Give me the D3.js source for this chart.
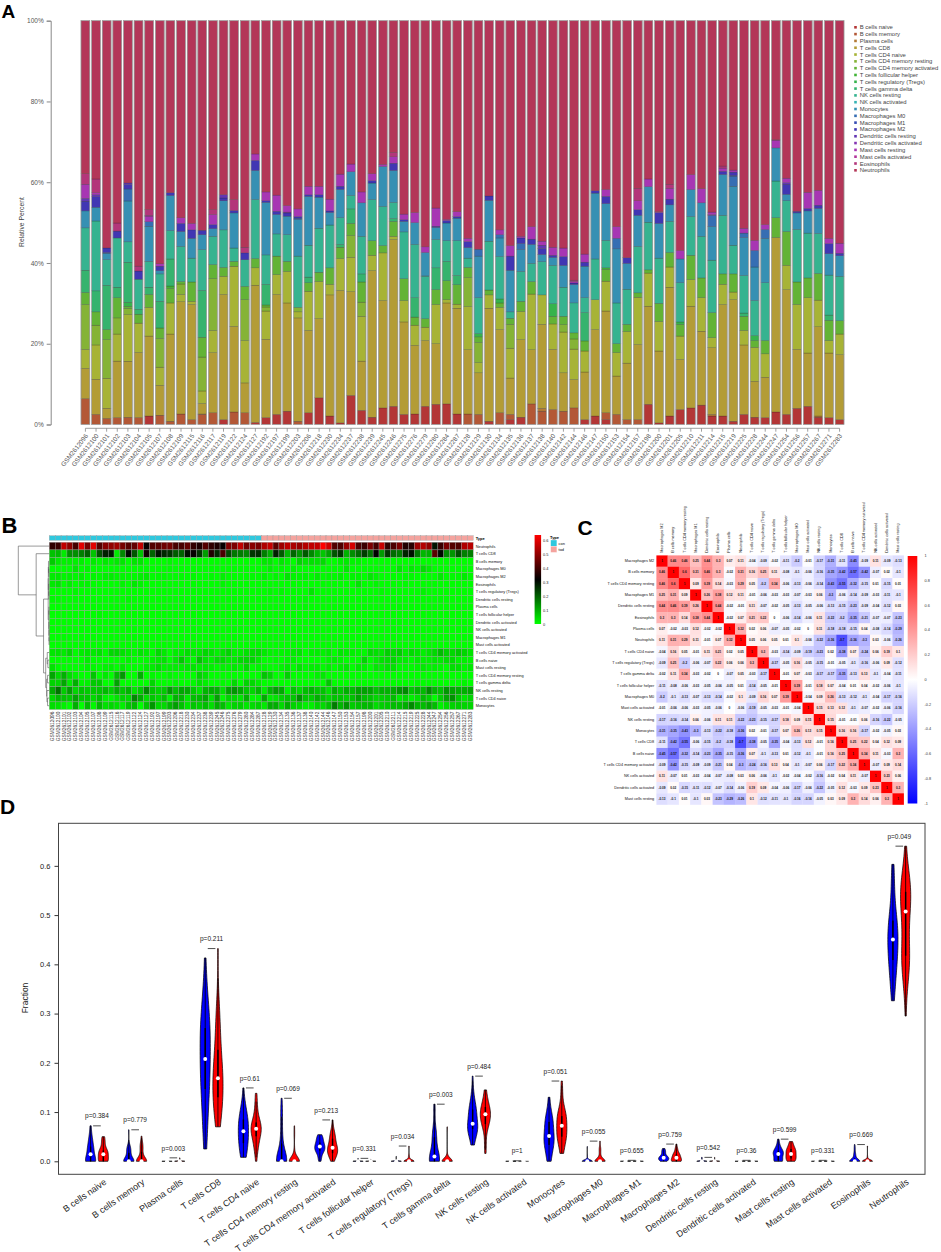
<!DOCTYPE html>
<html>
<head>
<meta charset="utf-8">
<script src="https://cdn.jsdelivr.net/npm/d3@7"></script>
<style>
  body { margin: 0; background: #fff; }
  svg { display: block; font-family: "Liberation Sans", Arial, sans-serif; }
</style>
</head>
<body>
<svg id="fig" width="941" height="1252"></svg>
<script>
// ---------------- data ----------------
const cellTypes = ["B cells naive", "B cells memory", "Plasma cells", "T cells CD8", "T cells CD4 naive",
  "T cells CD4 memory resting", "T cells CD4 memory activated", "T cells follicular helper",
  "T cells regulatory (Tregs)", "T cells gamma delta", "NK cells resting", "NK cells activated",
  "Monocytes", "Macrophages M0", "Macrophages M1", "Macrophages M2", "Dendritic cells resting",
  "Dendritic cells activated", "Mast cells resting", "Mast cells activated", "Eosinophils", "Neutrophils"];

const sampleIds = ["GSM2612096","GSM2612100","GSM2612101","GSM2612102","GSM2612103","GSM2612104","GSM2612105","GSM2612107","GSM2612108","GSM2612109","GSM2612115","GSM2612116","GSM2612117","GSM2612119","GSM2612122","GSM2612124","GSM2612127","GSM2612192","GSM2612197","GSM2612199","GSM2612203","GSM2612206","GSM2612218","GSM2612230","GSM2612234","GSM2612237","GSM2612238","GSM2612239","GSM2612245","GSM2612246","GSM2612275","GSM2612276","GSM2612279","GSM2612280","GSM2612284","GSM2612287",
  "GSM2612128","GSM2612129","GSM2612130","GSM2612134","GSM2612135","GSM2612136","GSM2612137","GSM2612138","GSM2612140","GSM2612142","GSM2612144","GSM2612146","GSM2612147","GSM2612150","GSM2612153","GSM2612154","GSM2612157","GSM2612198","GSM2612200","GSM2612201","GSM2612205","GSM2612210","GSM2612211","GSM2612214","GSM2612215","GSM2612219","GSM2612225","GSM2612228","GSM2612244","GSM2612247","GSM2612254","GSM2612256","GSM2612257","GSM2612267","GSM2612271","GSM2612283"];

const typeLevels = ["con", "tod"];
const typeCounts = [36, 36];

// fractions per cell type, 36 con samples then 36 tod samples
const bCellsNaive = [0,0,0,0,0,0,.021,0,0,0,0,0, 0,.012,0,0,.005,.017,.025,.033,0,.029,.066,.021, .004,.072,.035,.018,.041,.045,.025,.026,.045,.050,.051,.026,
  0,0,.008,0,.012,.018,0,0,0,0,0,.012, .021,.012,0,0,0,.050,.004,.021,.037,.041,.048,.021, .021,.008,.025,.018,.017,.031,.025,.040,.045,.018,.017,.012];
const bCellsMemory = [.064,.025,.015,.017,.018,.017,0,.023,.008,.026,.012,.025, .029,0,.031,.029,0,0,0,0,.008,0,0,0, 0,0,0,0,0,0,0,0,0,0,0,0,
  .026,.025,0,.029,.013,0,.051,.033,.037,.033,.041,0, 0,.017,.025,.012,.012,0,0,0,0,0,0,0, 0,0,0,0,0,0,0,0,0,0,0,0];
const plasmaCells = [0,0,0,0,0,0,0,0,0,0,0,.001, 0,0,0,0,0,0,0,0,0,0,0,0, 0,0,0,0,0,0,0,0,0,0,0,0,
  0,0,0,0,0,0,0,.007,0,0,0,0, 0,0,0,0,0,0,0,0,0,0,0,.004, 0,0,0,0,0,0,0,0,0,.003,0,0];
const tCellsCD8 = [.075,.087,.025,.140,.140,.160,.198,.074,.216,.278,.285,.026, .149,.310,.212,.074,.340,.194,.297,.268,.256,.204,.196,.300, .328,.257,.122,.363,.266,.413,.229,.170,.163,.150,.250,.262,
  .159,.103,.280,.206,.090,.192,.134,.208,.149,.095,.070,.118, .214,.252,.095,.140,.186,.243,.178,.319,.124,.252,.183,.165, .276,.301,.172,.089,.100,.432,.309,.146,.132,.221,.160,.161];
const tCellsCD4Naive = [.047,.085,.074,.067,.116,.072,.071,.045,.077,.018,.008,.031, .055,.045,.149,.105,.043,.070,.049,.078,.015,.097,.092,.026, .079,.085,.111,.038,.118,.008,.053,.050,.033,.097,.008,.010,
  .107,.025,.033,.055,.074,.070,.138,.073,.063,.101,.075,.052, .074,.074,.058,.078,.117,.082,.073,.050,.058,.066,.083,.025, .050,.019,.036,.084,.058,0,.060,.111,.137,.066,.031,.051];
const tCellsCD4MemResting = [.111,.049,.095,.040,.016,0,0,.071,0,.026,0,.084, .128,0,0,.101,0,.010,0,0,.011,0,0,0, 0,.054,.035,0,0,0,0,0,0,0,0,0,
  .072,.050,0,0,.059,0,0,0,0,.018,.025,0, 0,0,0,0,0,0,0,0,0,0,0,0, 0,0,0,0,0,0,0,0,0,0,0,0];
const tCellsCD4MemActivated = [.030,.033,.025,.050,.005,.022,.032,.026,.036,.006,.048,.049, .035,.022,.012,.033,.023,.005,.046,.025,0,.021,.023,.041, .028,.030,.050,.036,.018,.037,.054,.020,.021,.037,.047,.048,
  .025,.014,.012,.011,.015,.025,.031,0,.019,.021,.015,.025, 0,.029,.022,.018,.011,.008,.045,.036,.029,.060,.049,.062, .026,.045,.035,.017,.033,.049,.084,.056,.049,.066,.050,.033];
const tCellsFollicularHelper = [0,0,0,0,0,0,0,0,.006,0,0,0, 0,0,0,0,0,0,0,0,0,0,0,0, 0,0,0,0,0,0,0,0,0,0,0,0,
  0,0,0,0,0,0,0,0,0,0,0,0, 0,.004,0,0,0,0,0,0,0,0,0,0, 0,0,0,0,0,0,0,0,0,0,0,0];
const tCellsRegulatory = [0,0,0,0,.010,0,0,0,0,0,0,0, 0,0,0,0,0,0,0,0,0,0,0,0, 0,0,0,0,0,0,0,0,0,0,0,0,
  0,.008,0,.010,0,0,0,0,.031,0,0,0, 0,0,0,0,0,0,0,0,.006,0,0,0, 0,0,0,.012,0,0,0,0,0,0,0,0];
const tCellsGammaDelta = [.055,.052,.109,.026,.100,.012,.018,.066,.067,0,0,.116, 0,0,0,0,0,.051,0,0,0,.014,0,0, .007,.036,.020,0,0,.007,0,.048,0,.054,.048,.023,
  0,0,0,0,0,0,0,0,0,0,0,.070, 0,0,0,0,0,0,0,0,0,0,0,0, 0,0,.008,0,0,0,0,0,0,0,.013,0];
const nkCellsResting = [.105,.173,.063,.122,.051,.074,.064,.068,.070,.087,.059,.101, .070,.093,.033,.066,.146,.073,.055,.066,.127,.079,.109,.106, .066,.033,.093,.102,.097,.040,.116,.132,.105,.070,.051,.086,
  .023,.089,.121,.105,.016,.074,.045,.082,.095,.072,.074,.037, .101,.068,.101,.087,.115,.118,.112,.077,.097,.096,.103,.130, .145,.071,.093,.087,.143,.091,.076,.130,.111,.099,.099,.110];
const nkCellsActivated = [0,0,0,0,0,0,0,0,0,0,0,0, 0,0,0,0,0,0,0,0,0,0,0,0, 0,0,0,0,0,0,0,0,.001,0,0,0,
  0,0,0,0,0,0,0,0,0,0,0,0, 0,0,0,0,0,0,0,0,0,0,0,0, 0,0,0,0,0,0,0,0,0,0,0,0];
const monocytes = [.042,.034,.016,0,.102,0,.087,.008,.087,.037,.049,.037, .019,.072,.087,0,.072,.130,.048,.046,.090,.121,.077,.031, .070,.059,.083,.041,.099,.079,.026,.054,.058,.030,.044,.056,
  .026,.103,.101,.046,.103,.054,.047,.018,.020,.054,.045,.078, .163,.091,.134,.064,.077,.088,.086,.041,.059,.067,.083,.083, .101,.146,.094,.083,.110,.082,.016,.041,.055,.062,.053,.051];
const macrophagesM0 = [0,0,0,0,.030,0,.011,0,0,0,0,0, 0,0,0,0,0,0,0,0,.004,0,0,0, 0,0,0,0,0,0,0,0,0,0,0,0,
  0,.017,0,.008,0,.015,0,0,0,0,0,0, 0,0,.026,0,0,0,0,0,0,0,0,.028, 0,.025,.011,.041,.022,0,0,0,0,0,0,0];
const macrophagesM1 = [0,0,.002,0,0,0,0,0,0,0,0,0, 0,0,0,0,0,0,0,0,0,0,0,0, 0,0,0,0,0,0,0,0,0,0,0,0,
  0,0,0,0,0,0,0,0,0,0,0,0, 0,0,0,0,0,0,0,0,0,0,0,0, 0,.002,0,0,0,0,0,0,0,0,0,0];
const macrophagesM2 = [.024,.026,.011,.017,.011,.020,0,.011,.007,.020,.021,.011, .010,.007,.006,.017,.025,.004,.008,.008,.004,.004,.006,.004, .008,0,0,.006,0,.018,.004,0,0,.003,.006,.004,
  .015,0,.011,0,.035,.014,.013,.015,.005,.022,.004,.010, .006,.018,0,.014,.014,0,.027,.014,0,0,0,0, .008,.008,0,0,0,0,.025,.004,.006,.008,.025,.006];
const dendriticResting = [.007,.005,0,0,.004,0,0,0,0,0,0,0, 0,.008,0,0,0,0,0,0,0,0,0,0, 0,0,0,0,0,0,0,0,0,0,0,0,
  0,0,0,0,0,0,0,.008,0,0,0,0, 0,0,0,0,0,0,0,0,0,0,0,0, 0,0,0,0,0,0,.004,0,0,0,0,0];
const dendriticActivated = [0,0,0,0,0,0,0,0,0,0,0,0, 0,0,0,0,0,0,0,.002,0,0,0,0, 0,0,0,0,0,0,0,0,0,0,0,0,
  0,0,0,0,0,0,0,0,0,0,0,0, 0,0,0,0,0,0,0,0,0,0,0,.002, 0,0,0,0,0,0,0,0,0,0,0,0];
const mastResting = [.035,.005,0,0,0,0,.014,.006,0,.014,.016,0, .025,0,0,0,.016,.022,.040,.016,.019,.021,.021,.029, .030,.019,.027,.017,.005,.016,.014,.025,.014,.045,.003,.012,
  .008,0,0,.012,.026,.004,.031,.010,.020,.021,.004,.020, 0,.017,.029,0,.022,.019,0,.027,.021,.037,.035,.006, .008,.005,.012,.025,.012,.019,.011,0,.040,.037,.013,.025];
const mastActivated = [0,0,0,0,0,0,.002,0,0,0,0,0, 0,0,0,0,0,0,0,0,0,0,0,0, 0,0,0,0,0,0,0,0,0,0,0,0,
  0,0,0,0,0,0,0,0,0,0,0,0, 0,0,0,0,0,0,.002,0,0,0,0,0, 0,0,0,0,0,0,0,0,0,0,0,0];
const eosinophils = [.026,.034,0,.020,0,.012,.014,0,0,0,0,0, .012,0,.027,.014,0,0,0,0,0,0,0,0, 0,0,0,0,0,.011,0,0,0,0,0,0,
  0,0,0,0,0,0,0,0,0,0,.003,0, 0,0,0,0,.031,0,0,.010,0,0,0,0, .005,0,0,0,0,.001,0,0,0,0,0,0];
const neutrophils = [.379,.392,.560,.501,.405,.603,.468,.602,.426,.488,.502,.519, .468,.431,.443,.561,.330,.424,.432,.458,.466,.410,.410,.442, .380,.355,.424,.379,.356,.326,.479,.475,.560,.464,.492,.473,
  .539,.566,.434,.518,.557,.534,.510,.546,.561,.563,.640,.578, .421,.418,.510,.587,.415,.392,.473,.405,.569,.381,.416,.474, .360,.370,.514,.544,.505,.295,.390,.472,.425,.420,.539,.551];

const seriesByType = [bCellsNaive, bCellsMemory, plasmaCells, tCellsCD8, tCellsCD4Naive, tCellsCD4MemResting,
  tCellsCD4MemActivated, tCellsFollicularHelper, tCellsRegulatory, tCellsGammaDelta, nkCellsResting, nkCellsActivated,
  monocytes, macrophagesM0, macrophagesM1, macrophagesM2, dendriticResting, dendriticActivated, mastResting,
  mastActivated, eosinophils, neutrophils];

// panel B row order (clustered)
const heatRowOrder = ["Neutrophils", "T cells CD8", "B cells memory", "Macrophages M0", "Macrophages M2", "Eosinophils",
  "T cells regulatory (Tregs)", "Dendritic cells resting", "Plasma cells", "T cells follicular helper",
  "Dendritic cells activated", "NK cells activated", "Macrophages M1", "Mast cells activated",
  "T cells CD4 memory activated", "B cells naive", "Mast cells resting", "T cells CD4 memory resting",
  "T cells gamma delta", "NK cells resting", "T cells CD4 naive", "Monocytes"];
// row dendrogram: merge heights (0..1), leaves are row indices
const rowTree = {h: 1, c: [0, {h: 0.42, c: [1, {h: 0.18, c: [
  {h: 0.03, c: [{h: 0.025, c: [{h: 0.02, c: [2, {h: 0.012, c: [3, 4]}]}, {h: 0.015, c: [5, {h: 0.01, c: [6, 7]}]}]},
                {h: 0.012, c: [{h: 0.006, c: [8, 9]}, {h: 0.008, c: [10, {h: 0.004, c: [11, {h: 0.002, c: [12, 13]}]}]}]}]},
  {h: 0.11, c: [{h: 0.06, c: [14, {h: 0.04, c: [15, 16]}]},
                {h: 0.08, c: [{h: 0.05, c: [17, 18]}, {h: 0.07, c: [19, {h: 0.05, c: [20, 21]}]}]}]}
]}]}]};

// panel C correlation matrix
const corrOrder = ["Macrophages M2", "B cells memory", "T cells CD4 memory resting", "Macrophages M1",
  "Dendritic cells resting", "Eosinophils", "Plasma cells", "Neutrophils", "T cells CD4 naive",
  "T cells regulatory (Tregs)", "T cells gamma delta", "T cells follicular helper", "Macrophages M0",
  "Mast cells activated", "NK cells resting", "Monocytes", "T cells CD8", "B cells naive",
  "T cells CD4 memory activated", "NK cells activated", "Dendritic cells activated", "Mast cells resting"];
const corrValues = [
  [1, .46, .46, .25, .44, .3, .07, .11, -.04, -.09, -.02, -.11, -.2, -.01, -.17, -.31, -.11, -.45, -.09, .11, -.09, -.13],
  [.46, 1, .6, .31, .46, .3, -.02, .31, .16, .25, .11, -.08, -.1, -.06, -.16, -.35, -.42, -.57, -.42, -.07, .02, -.1],
  [.46, .6, 1, .09, .39, .14, -.03, .29, .05, -.2, .34, -.06, -.13, -.06, -.14, -.43, -.55, -.32, -.15, .01, -.15, .01],
  [.25, .31, .09, 1, .26, .38, .12, .11, -.01, -.06, -.03, -.03, -.07, -.03, .06, -.3, -.06, -.14, -.09, -.03, -.11, -.1],
  [.44, .46, .39, .26, 1, .44, -.02, -.01, .11, -.07, -.02, -.05, -.13, -.05, -.06, -.13, -.15, -.23, -.09, -.04, -.12, .03],
  [.3, .3, .14, .38, .44, 1, -.02, .07, .21, .22, 0, -.06, -.14, -.06, .11, -.22, -.2, -.35, -.21, -.07, -.07, -.23],
  [.07, -.02, -.03, .12, -.02, -.02, 1, .32, .02, .06, -.07, -.05, -.02, 0, .11, -.18, -.18, -.15, .04, -.08, -.14, -.29],
  [.11, .31, .29, .11, -.01, .07, .32, 1, .05, .06, .05, .01, .1, -.06, -.22, -.36, -.7, -.36, -.3, .03, -.06, -.26],
  [-.04, .16, .05, -.01, .11, .21, .02, .05, 1, .3, -.03, -.14, -.09, -.19, -.23, .02, -.38, .07, -.24, .06, .19, .1],
  [-.09, .25, -.2, -.06, -.07, .22, .06, .06, .3, 1, -.17, -.05, .16, -.05, -.15, -.01, -.05, -.1, -.16, -.06, .09, -.12],
  [-.02, .11, .34, -.03, -.02, 0, -.07, .05, -.03, -.17, 1, -.01, .07, -.03, -.17, -.17, -.35, -.13, .13, -.1, -.04, -.11],
  [-.11, -.08, -.06, -.03, -.05, -.06, -.05, .01, -.14, -.05, -.01, 1, .39, -.01, .18, .07, -.04, .01, .04, -.02, -.06, -.1],
  [-.2, -.1, -.13, -.07, -.13, -.14, -.02, .1, -.09, .16, .07, .39, 1, -.04, .09, .26, -.13, -.12, -.1, -.04, -.17, -.16],
  [-.01, -.06, -.06, -.03, -.05, -.06, 0, -.06, -.19, -.05, -.03, -.01, -.04, 1, .15, .13, .12, -.1, -.07, -.02, -.06, -.16],
  [-.17, -.16, -.14, .06, -.06, .11, .11, -.22, -.23, -.15, -.17, .18, .09, .15, 1, .15, -.01, -.01, .06, -.16, -.22, -.05],
  [-.31, -.35, -.43, -.3, -.13, -.22, -.18, -.36, .02, -.01, -.17, .07, .26, .13, .15, 1, .16, .16, -.17, -.02, -.05, .03],
  [-.11, -.42, -.55, -.06, -.15, -.2, -.18, -.7, -.38, -.05, -.35, -.04, -.13, .12, -.01, .16, 1, .25, .22, .04, .12, .09],
  [-.45, -.57, -.32, -.14, -.23, -.35, -.15, -.36, .07, -.1, -.13, .01, -.12, -.1, -.01, .16, .25, 1, .34, .11, -.03, .3],
  [-.09, -.42, -.15, -.09, -.09, -.21, .04, -.3, -.24, -.16, .13, .04, -.1, -.07, .06, -.17, .22, .34, 1, -.07, .09, .14],
  [.11, -.07, .01, -.03, -.04, -.07, -.08, .03, .06, -.06, -.1, -.02, -.04, -.02, -.16, -.02, .04, .11, -.07, 1, .23, .06],
  [-.09, .02, -.15, -.11, -.12, -.07, -.14, -.06, .19, .09, -.04, -.06, -.17, -.06, -.22, -.05, .12, -.03, .09, .23, 1, .3],
  [-.13, -.1, .01, -.1, .03, -.23, -.29, -.26, .1, -.12, -.11, -.1, -.16, -.16, -.05, .03, .09, .3, .14, .06, .3, 1]
];
const corrTicks = [1, 0.8, 0.6, 0.4, 0.2, 0, -0.2, -0.4, -0.6, -0.8, -1];

// panel D Wilcoxon p values (con vs tod)
const pValues = [0.384, 0.779, 0.003, 0.211, 0.61, 0.069, 0.213, 0.331, 0.034, 0.003, 0.484, 1,
  0.051, 0.055, 0.655, 0.759, 0.542, 0.36, 0.599, 0.331, 0.669, 0.049];
const groupColors = ["#0000FF", "#FF0000"];

// ---------------- helpers ----------------
const svg = d3.select("#fig");
const FONT = "'Liberation Sans', Arial, sans-serif";

function hsvColor(h, s, v) {
  const i = Math.floor(h * 6), f = h * 6 - i;
  const p = v * (1 - s), q = v * (1 - f * s), t = v * (1 - (1 - f) * s);
  const [r, g, b] = [[v, t, p], [q, v, p], [p, v, t], [p, q, v], [t, p, v], [v, p, q]][i % 6];
  return d3.rgb(r * 255, g * 255, b * 255).formatHex();
}
// like R rainbow(n, s = 0.7, v = 0.7)
const cellColor = d3.scaleOrdinal(cellTypes, cellTypes.map((_, k) => hsvColor(k / cellTypes.length, 0.7, 0.7)));

const sampleType = typeLevels.flatMap((t, i) => Array(typeCounts[i]).fill(t));
const rows = sampleIds.map((id, i) => {
  const r = {id};
  cellTypes.forEach((ct, k) => { r[ct] = seriesByType[k][i]; });
  return r;
});

function panelLabel(txt, x, y, size) {
  svg.append("text").attr("x", x).attr("y", y).attr("font-size", size).attr("font-weight", "bold")
    .attr("fill", "#000").text(txt);
}

// ---------------- Panel A: stacked bars ----------------
panelLabel("A", 1.5, 18.3, 19);
const xA = d3.scaleBand().domain(sampleIds).range([80.1, 844.9]).paddingInner(0.17).paddingOuter(0.085);
const yA = d3.scaleLinear().domain([0, 1]).range([424.5, 20.7]);
const stackA = d3.stack().keys(cellTypes).offset(d3.stackOffsetExpand)(rows);

const gA = svg.append("g");
gA.selectAll("g.layer").data(stackA).join("g").attr("class", "layer")
  .attr("fill", d => cellColor(d.key))
  .selectAll("rect").data(d => d).join("rect")
  .attr("x", d => xA(d.data.id))
  .attr("y", d => yA(d[1]))
  .attr("width", xA.bandwidth())
  .attr("height", d => Math.max(0, yA(d[0]) - yA(d[1])))
  .attr("stroke", "rgba(30,30,30,0.55)").attr("stroke-width", 0.4);
gA.selectAll("rect.outline").data(sampleIds).join("rect").attr("class", "outline")
  .attr("x", d => xA(d)).attr("y", yA(1)).attr("width", xA.bandwidth()).attr("height", yA(0) - yA(1))
  .attr("fill", "none").attr("stroke", "#a8a8a8").attr("stroke-width", 0.7);

// y axis
const axA = gA.append("g").attr("transform", "translate(50.7,0)")
  .call(d3.axisLeft(yA).tickValues([0, .2, .4, .6, .8, 1]).tickFormat(d3.format(".0%")).tickSize(4).tickPadding(3));
axA.select(".domain").attr("stroke", "#888");
axA.selectAll(".tick line").attr("stroke", "#888");
axA.selectAll(".tick text").attr("font-size", 6.5).attr("fill", "#555").attr("font-family", FONT);
gA.append("text").attr("transform", "translate(21.5,222) rotate(-90)").attr("text-anchor", "middle")
  .attr("dominant-baseline", "central").attr("font-size", 6.8).attr("fill", "#444").text("Relative Percent");

// x axis
const cx = id => xA(id) + xA.bandwidth() / 2;
gA.append("line").attr("x1", cx(sampleIds[0])).attr("x2", cx(sampleIds[sampleIds.length - 1]))
  .attr("y1", 428.3).attr("y2", 428.3).attr("stroke", "#888").attr("stroke-width", 0.8);
gA.selectAll("line.xt").data(sampleIds).join("line").attr("class", "xt")
  .attr("x1", d => cx(d)).attr("x2", d => cx(d)).attr("y1", 428.3).attr("y2", 431.7)
  .attr("stroke", "#888").attr("stroke-width", 0.8);
gA.selectAll("text.xl").data(sampleIds).join("text").attr("class", "xl")
  .attr("transform", d => `translate(${cx(d) + 1},${434.5}) rotate(-52)`)
  .attr("text-anchor", "end").attr("dominant-baseline", "central")
  .attr("font-size", 6.4).attr("fill", "#555").text(d => d);

// legend
const legA = gA.append("g");
cellTypes.forEach((ct, k) => {
  const y = 27.3 + k * 6.81;
  legA.append("rect").attr("x", 854.2).attr("y", y - 1.3).attr("width", 2.6).attr("height", 2.6).attr("fill", cellColor(ct));
  legA.append("text").attr("x", 859.8).attr("y", y).attr("dominant-baseline", "central")
    .attr("font-size", 5.9).attr("fill", "#444").text(ct);
});

// ---------------- Panel B: heatmap ----------------
panelLabel("B", 1.5, 533.3, 22);
const gB = svg.append("g");
const xB = d3.scaleBand().domain(sampleIds).range([49.3, 473.2]);
const yB = d3.scaleBand().domain(heatRowOrder).range([542.3, 709.5]);
const vmax = d3.max(seriesByType.flat());
const heatColor = d3.scaleLinear().domain([0, vmax / 2, vmax]).range(["#00FF00", "#000000", "#FF0000"]);
const typeColor = d3.scaleOrdinal(typeLevels, ["#2fc8de", "#f4a39e"]);

const heatCells = [];
heatRowOrder.forEach(ct => {
  const k = cellTypes.indexOf(ct);
  sampleIds.forEach((id, i) => heatCells.push({ct, id, v: seriesByType[k][i]}));
});
gB.selectAll("rect.hc").data(heatCells).join("rect").attr("class", "hc")
  .attr("x", d => xB(d.id)).attr("y", d => yB(d.ct))
  .attr("width", xB.bandwidth()).attr("height", yB.bandwidth())
  .attr("fill", d => heatColor(d.v)).attr("stroke", "#999").attr("stroke-width", 0.35);
// annotation row
gB.selectAll("rect.an").data(sampleIds).join("rect").attr("class", "an")
  .attr("x", d => xB(d)).attr("y", 535.7).attr("width", xB.bandwidth()).attr("height", 4.6)
  .attr("fill", (d, i) => typeColor(sampleType[i])).attr("stroke", "#999").attr("stroke-width", 0.35);
gB.append("text").attr("x", 475.7).attr("y", 538).attr("dominant-baseline", "central")
  .attr("font-size", 4).attr("font-weight", "bold").text("Type");
gB.selectAll("text.rl").data(heatRowOrder).join("text").attr("class", "rl")
  .attr("x", 475.7).attr("y", d => yB(d) + yB.bandwidth() / 2).attr("dominant-baseline", "central")
  .attr("font-size", 3.9).attr("fill", "#111").text(d => d);
gB.selectAll("text.cl").data(sampleIds).join("text").attr("class", "cl")
  .attr("transform", d => `translate(${xB(d) + xB.bandwidth() / 2},${711.6}) rotate(-90)`)
  .attr("text-anchor", "end").attr("dominant-baseline", "central")
  .attr("font-size", 4.8).attr("fill", "#333").text(d => d);

// dendrogram
const xDen = d3.scaleLinear().domain([0, 1]).range([49.1, 18.3]);
function drawTree(node) {
  if (typeof node === "number") {
    const ct = heatRowOrder[node];
    return {x: xDen(0), y: yB(ct) + yB.bandwidth() / 2};
  }
  const kids = node.c.map(drawTree);
  const x = xDen(node.h);
  const y = (kids[0].y + kids[1].y) / 2;
  kids.forEach(k => gB.append("path").attr("d", `M${k.x},${k.y}H${x}`)
    .attr("stroke", "#555").attr("stroke-width", 0.6).attr("fill", "none"));
  gB.append("path").attr("d", `M${x},${kids[0].y}V${kids[1].y}`)
    .attr("stroke", "#555").attr("stroke-width", 0.6).attr("fill", "none");
  return {x, y};
}
drawTree(rowTree);

// colour legend
const yLegB = d3.scaleLinear().domain([0, vmax]).range([624, 535]);
const defs = svg.append("defs");
const gradB = defs.append("linearGradient").attr("id", "gradB").attr("x1", 0).attr("y1", 1).attr("x2", 0).attr("y2", 0);
d3.range(0, 1.0001, 0.1).forEach(t => gradB.append("stop").attr("offset", t).attr("stop-color", heatColor(t * vmax)));
gB.append("rect").attr("x", 534.6).attr("y", yLegB(vmax)).attr("width", 6.5).attr("height", yLegB(0) - yLegB(vmax))
  .attr("fill", "url(#gradB)");
gB.selectAll("text.lb").data([0, .1, .2, .3, .4, .5, .6]).join("text").attr("class", "lb")
  .attr("x", 543).attr("y", d => yLegB(d)).attr("dominant-baseline", "central")
  .attr("font-size", 3.9).attr("fill", "#222").text(d => d);
gB.append("text").attr("x", 550).attr("y", 537.3).attr("dominant-baseline", "central")
  .attr("font-size", 4).attr("font-weight", "bold").text("Type");
typeLevels.forEach((t, i) => {
  gB.append("rect").attr("x", 550.7).attr("y", 540 + i * 6.2).attr("width", 6.2).attr("height", 6.2)
    .attr("fill", typeColor(t)).attr("stroke", "#fff").attr("stroke-width", 0.3);
  gB.append("text").attr("x", 558.6).attr("y", 543.1 + i * 6.2).attr("dominant-baseline", "central")
    .attr("font-size", 3.9).text(t);
});

// ---------------- Panel C: correlation matrix ----------------
panelLabel("C", 577.5, 535, 21);
const gC = svg.append("g");
const xC = d3.scaleBand().domain(corrOrder).range([656.4, 903.7]);
const yC = d3.scaleBand().domain(corrOrder).range([555.4, 804.6]);
const corrColor = d3.scaleLinear().domain([-1, 0, 1]).range(["#0000FF", "#FFFFFF", "#FF0000"]);
const corrCells = [];
corrValues.forEach((row, i) => row.forEach((v, j) => corrCells.push({r: corrOrder[i], c: corrOrder[j], v})));
gC.selectAll("rect.cc").data(corrCells).join("rect").attr("class", "cc")
  .attr("x", d => xC(d.c)).attr("y", d => yC(d.r)).attr("width", xC.bandwidth() + 0.2).attr("height", yC.bandwidth() + 0.2)
  .attr("fill", d => corrColor(d.v));
gC.selectAll("text.cv").data(corrCells).join("text").attr("class", "cv")
  .attr("x", d => xC(d.c) + xC.bandwidth() / 2).attr("y", d => yC(d.r) + yC.bandwidth() / 2)
  .attr("text-anchor", "middle").attr("dominant-baseline", "central")
  .attr("font-size", 3.1).attr("font-weight", "bold").attr("fill", "#111").text(d => String(d.v));
gC.selectAll("text.rr").data(corrOrder).join("text").attr("class", "rr")
  .attr("x", 654.2).attr("y", d => yC(d) + yC.bandwidth() / 2).attr("text-anchor", "end")
  .attr("dominant-baseline", "central").attr("font-size", 3.8).attr("fill", "#111").text(d => d);
gC.selectAll("text.cr").data(corrOrder).join("text").attr("class", "cr")
  .attr("transform", d => `translate(${xC(d) + xC.bandwidth() / 2},${552.8}) rotate(-90)`)
  .attr("dominant-baseline", "central").attr("font-size", 3.8).attr("fill", "#111").text(d => d);
// colour bar
const yLegC = d3.scaleLinear().domain([-1, 1]).range([803.5, 556]);
const gradC = defs.append("linearGradient").attr("id", "gradC").attr("x1", 0).attr("y1", 1).attr("x2", 0).attr("y2", 0);
[-1, -0.5, 0, 0.5, 1].forEach(v => gradC.append("stop").attr("offset", (v + 1) / 2).attr("stop-color", corrColor(v)));
gC.append("rect").attr("x", 907.7).attr("y", yLegC(1)).attr("width", 9.6).attr("height", yLegC(-1) - yLegC(1))
  .attr("fill", "url(#gradC)");
gC.selectAll("text.ct").data(corrTicks).join("text").attr("class", "ct")
  .attr("x", 924.5).attr("y", d => yLegC(d)).attr("dominant-baseline", "central")
  .attr("font-size", 3.8).attr("fill", "#333").text(d => String(d));

// ---------------- Panel D: violins ----------------
panelLabel("D", 0, 814, 21);
const gD = svg.append("g");
const allVals = seriesByType.flat();
const yMin = d3.min(allVals), yMax = d3.max(allVals) + 0.02;
const padY = (yMax - yMin) * 0.04;
const xD = d3.scaleLinear().domain([-2.52, 65.52]).range([58.5, 925]);
const yD = d3.scaleLinear().domain([yMin - padY, yMax + padY]).range([1174.3, 823.3]);

gD.append("rect").attr("x", 58.5).attr("y", 823.3).attr("width", 925 - 58.5).attr("height", 1174.3 - 823.3)
  .attr("fill", "none").attr("stroke", "#444").attr("stroke-width", 1);
const axD = gD.append("g").attr("transform", "translate(58.5,0)")
  .call(d3.axisLeft(yD).tickValues([0, .1, .2, .3, .4, .5, .6]).tickFormat(d3.format(".1f")).tickSize(4).tickPadding(4));
axD.select(".domain").remove();
axD.selectAll(".tick line").attr("stroke", "#333");
axD.selectAll(".tick text").attr("font-size", 7.5).attr("fill", "#222").attr("font-family", FONT);
gD.append("text").attr("transform", "translate(25,998) rotate(-90)").attr("text-anchor", "middle")
  .attr("dominant-baseline", "central").attr("font-size", 8.5).attr("fill", "#222").text("Fraction");

function drawViolin(values, at, fill) {
  const v = values.slice().sort(d3.ascending);
  const lo = v[0], hi = v[v.length - 1];
  const q1 = d3.quantileSorted(v, 0.25), q3 = d3.quantileSorted(v, 0.75), med = d3.quantileSorted(v, 0.5);
  const iqr = q3 - q1;
  const upper = Math.min(q3 + 1.5 * iqr, hi), lower = Math.max(q1 - 1.5 * iqr, lo);
  const sd = d3.deviation(v);
  if (hi - lo > 1e-9 && sd > 0) {
    const bw = sd * Math.pow(4 / (3 * v.length), 0.2);
    const grid = d3.range(50).map(k => lo + (hi - lo) * k / 49);
    const dens = grid.map(t => d3.mean(v, x => Math.exp(-0.5 * ((t - x) / bw) ** 2)));
    const hs = 0.4 / d3.max(dens);
    const pts = grid.map((t, k) => [xD(at - dens[k] * hs), yD(t)])
      .concat(grid.map((t, k) => [xD(at + dens[k] * hs), yD(t)]).reverse());
    gD.append("path").attr("d", d3.line()(pts) + "Z").attr("fill", fill)
      .attr("stroke", "#000").attr("stroke-width", 0.7);
  } else {
    gD.append("line").attr("x1", xD(at - 0.4)).attr("x2", xD(at + 0.4)).attr("y1", yD(lo)).attr("y2", yD(lo))
      .attr("stroke", "#000").attr("stroke-width", 0.7);
  }
  gD.append("line").attr("x1", xD(at)).attr("x2", xD(at)).attr("y1", yD(lower)).attr("y2", yD(upper))
    .attr("stroke", "#000").attr("stroke-width", 0.8);
  gD.append("rect").attr("x", xD(at) - 0.7).attr("width", 1.4).attr("y", yD(q3))
    .attr("height", Math.max(0.3, yD(q1) - yD(q3))).attr("fill", "#000");
  gD.append("circle").attr("cx", xD(at)).attr("cy", yD(med)).attr("r", 2).attr("fill", "#fff");
}

cellTypes.forEach((ct, i) => {
  const vals = seriesByType[i];
  const groups = [vals.slice(0, typeCounts[0]), vals.slice(typeCounts[0])];
  groups.forEach((g, gi) => drawViolin(g, 3 * i + gi, groupColors[gi]));
  const mx = d3.max(vals);
  gD.append("line").attr("x1", xD(3 * i + 0.2)).attr("x2", xD(3 * i + 0.8)).attr("y1", yD(mx)).attr("y2", yD(mx))
    .attr("stroke", "#000").attr("stroke-width", 0.7);
  gD.append("text").attr("x", xD(3 * i + 0.5)).attr("y", yD(mx + 0.02)).attr("text-anchor", "middle")
    .attr("dominant-baseline", "central").attr("font-size", 6.5).attr("fill", "#222").text("p=" + pValues[i]);
  gD.append("text").attr("transform", `translate(${xD(3 * i + 1) + 2},${yD(-0.04)}) rotate(-35)`)
    .attr("text-anchor", "end").attr("dominant-baseline", "central")
    .attr("font-size", 9).attr("fill", "#222").text(ct);
});
</script>
</body>
</html>
